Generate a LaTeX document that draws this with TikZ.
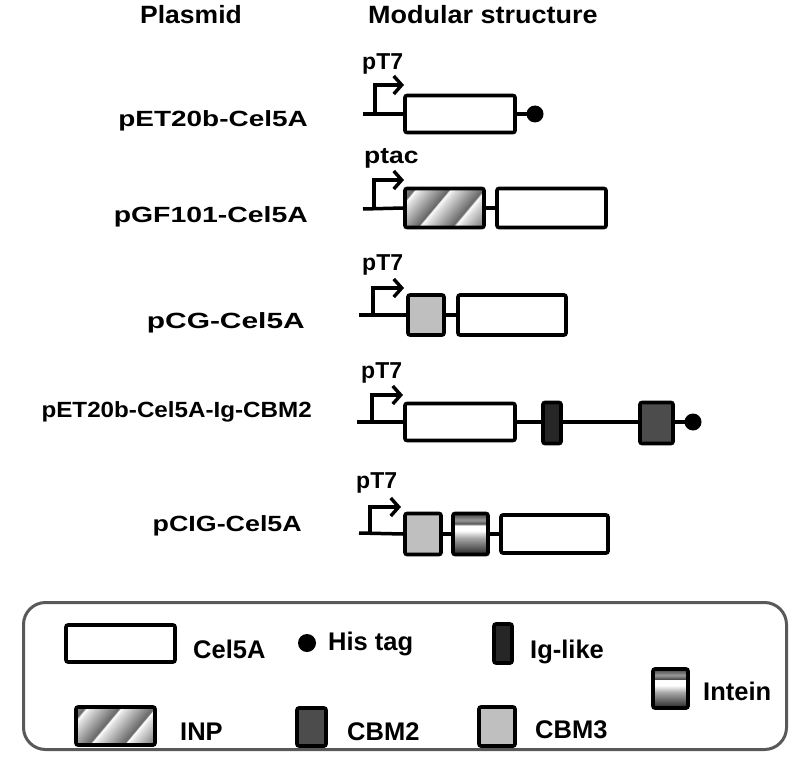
\documentclass[tikz,border=0pt]{standalone}
\usepackage{fontspec}
\setmainfont{Liberation Sans}
\usetikzlibrary{arrows.meta}
\pgfdeclarehorizontalshading{inpsh}{100bp}{color(0bp)=(white); color(3bp)=(black!12); color(21bp)=(black!60); color(22bp)=(white); color(25bp)=(black!12); color(43bp)=(black!60); color(44bp)=(white); color(47bp)=(black!12); color(65bp)=(black!60); color(66bp)=(white); color(69bp)=(black!12); color(87bp)=(black!60); color(88bp)=(white); color(91bp)=(black!12); color(100bp)=(black!35)}
\pgfdeclareverticalshading{intsh}{100bp}{color(0bp)=(black!85); color(25bp)=(black!85); color(45bp)=(black!35); color(54bp)=(white); color(61bp)=(white); color(62bp)=(black!70); color(67bp)=(black!40); color(75bp)=(black!75); color(100bp)=(black!75)}
\tikzset{
  modbox/.style={draw=black, line width=3.6pt, rounded corners=2pt, inner sep=0pt},
  cel/.style={modbox, fill=white},
  cbmthree/.style={modbox, fill=black!25},
  cbmtwo/.style={modbox, fill=black!70},
  iglike/.style={modbox, fill=black!85},
  inp/.style={modbox, shading=inpsh, shading angle=-40},
  intein/.style={modbox, shading=intsh},
  histag/.style={circle, fill=black, inner sep=0pt, minimum size=17pt},
  bb/.style={line width=3.5pt},
  prom/.style={line width=3.4pt, -{Straight Barb[length=8pt,width=18pt]}},
  lab/.style={font=\fontsize{22}{26}\selectfont\bfseries, inner sep=0pt, anchor=base east},
  ttl/.style={font=\fontsize{25}{29}\selectfont\bfseries, inner sep=0pt, anchor=base west},
  ptxt/.style={font=\fontsize{23}{27}\selectfont\bfseries, inner sep=0pt, anchor=base west},
  leg/.style={font=\fontsize{25.5}{29}\selectfont\bfseries, inner sep=0pt, anchor=base west}
}
\begin{document}
\begin{tikzpicture}[x=1pt,y=-1pt]
\useasboundingbox (0,0) rectangle (800,765);
% titles
\node[ttl] (tp) at (140,24) {\scalebox{1.06}[1]{Plasmid}};
\node[ttl] (tm) at (368,24) {\scalebox{1.08}[1]{Modular structure}};
% labels
\node[lab] (l1) at (308,127) {\scalebox{1.27}[1]{pET20b-Cel5A}};
\node[lab] (l2) at (308,222) {\scalebox{1.29}[1]{pGF101-Cel5A}};
\node[lab] (l3) at (305,328) {\scalebox{1.36}[1]{pCG-Cel5A}};
\node[lab] (l4) at (312,417) {\scalebox{1.1}[1]{pET20b-Cel5A-Ig-CBM2}};
\node[lab] (l5) at (302,531) {\scalebox{1.22}[1]{pCIG-Cel5A}};
% promoter labels
\node[ptxt] (pt1) at (362,70) {pT7};
\node[ptxt] (pt2) at (364,163) {\scalebox{1.15}[1]{ptac}};
\node[ptxt] (pt3) at (362,270) {pT7};
\node[ptxt] (pt4) at (361,378) {pT7};
\node[ptxt] (pt5) at (356,488) {pT7};

% Row 1
\coordinate (s1) at (363,114);
\node[cel, minimum width=110pt, minimum height=37pt] (c1) at (460,114) {};
\node[histag] (h1) at (535,114) {};
\draw[bb] (s1) -- (c1.west);
\draw[bb] (c1.east) -- (h1.center);
\coordinate (p1a) at (375,114); \coordinate (p1b) at (404,85);
\draw[prom] (p1a) |- (p1b);

% Row 2
\coordinate (s2) at (363,209);
\node[inp, minimum width=79pt, minimum height=39pt] (i2) at (444.5,208) {};
\node[cel, minimum width=109pt, minimum height=39pt] (c2) at (551.5,208) {};
\draw[bb] (s2) -- (i2.west);
\draw[bb] (i2.east) -- (c2.west);
\coordinate (p2a) at (374,209); \coordinate (p2b) at (404,180);
\draw[prom] (p2a) |- (p2b);

% Row 3
\coordinate (s3) at (359,315);
\node[cbmthree, minimum width=36pt, minimum height=40pt] (b3) at (426,315) {};
\node[cel, minimum width=108pt, minimum height=40pt] (c3) at (512,315) {};
\draw[bb] (s3) -- (b3.west);
\draw[bb] (b3.east) -- (c3.west);
\coordinate (p3a) at (373,315); \coordinate (p3b) at (404,288);
\draw[prom] (p3a) |- (p3b);

% Row 4
\coordinate (s4) at (357,422);
\node[cel, minimum width=110pt, minimum height=37pt] (c4) at (460,422) {};
\node[iglike, minimum width=18pt, minimum height=41pt] (g4) at (552,423) {};
\node[cbmtwo, minimum width=33pt, minimum height=41pt] (m4) at (656.5,423) {};
\node[histag] (h4) at (693,422) {};
\draw[bb] (s4) -- (c4.west);
\draw[bb] (c4.east) -- (g4.west |- c4.east);
\draw[bb] (g4.east |- c4.east) -- (m4.west |- c4.east);
\draw[bb] (m4.east |- c4.east) -- (h4.center);
\coordinate (p4a) at (372,422); \coordinate (p4b) at (403,395);
\draw[prom] (p4a) |- (p4b);

% Row 5
\coordinate (s5) at (359,533);
\node[cbmthree, minimum width=36pt, minimum height=41pt] (b5) at (423,534) {};
\node[intein, minimum width=35pt, minimum height=41pt] (n5) at (470.5,534) {};
\node[cel, minimum width=107pt, minimum height=38pt] (c5) at (554.5,534) {};
\draw[bb] (s5) -- (b5.west);
\draw[bb] (b5.east) -- (n5.west);
\draw[bb] (n5.east) -- (c5.west);
\coordinate (p5a) at (370,533); \coordinate (p5b) at (401,507);
\draw[prom] (p5a) |- (p5b);

% Legend
\node[draw=black!65, line width=3pt, rounded corners=22pt, minimum width=763pt, minimum height=147pt, inner sep=0pt] (frame) at (405,676) {};
\node[cel, minimum width=109pt, minimum height=37pt] (lc) at (120.5,643.5) {};
\node[leg] (tc) at (193,658) {Cel5A};
\node[histag, minimum size=18pt] (lh) at (307,643) {};
\node[leg] (th) at (328,650) {His tag};
\node[iglike, minimum width=18pt, minimum height=39pt] (lg) at (503,643.5) {};
\node[leg] (tg) at (530,658) {Ig-like};
\node[intein, minimum width=35pt, minimum height=39pt] (ln) at (670.5,688.5) {};
\node[leg] (tn) at (703,700) {Intein};
\node[inp, minimum width=79pt, minimum height=38pt] (li) at (115.5,726) {};
\node[leg] (ti) at (180,740) {INP};
\node[cbmtwo, minimum width=29pt, minimum height=38pt] (lm) at (311.5,727) {};
\node[leg] (tmm) at (347,740) {CBM2};
\node[cbmthree, minimum width=36pt, minimum height=39pt] (lb) at (497,726.5) {};
\node[leg] (tb) at (535,738) {CBM3};
\end{tikzpicture}
\end{document}
